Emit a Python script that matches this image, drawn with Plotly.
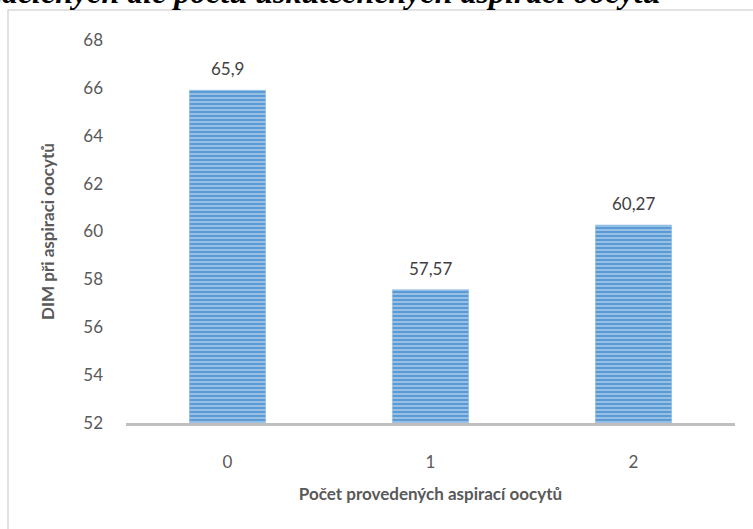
import plotly.graph_objects as go

categories = ["0", "1", "2"]
values = [65.9, 57.57, 60.27]
labels = ["65,9", "57,57", "60,27"]
y_ticks = [52, 54, 56, 58, 60, 62, 64, 66, 68]

title_text = "rozdělených dle počtu uskutečněných aspirací oocytů"
x_title = "Počet provedených aspirací oocytů"
y_title = "DIM při aspiraci oocytů"

L, R, T, B = 126, 18, 40, 106
W, H = 753, 529
pw = W - L - R
ph = H - T - B

fig = go.Figure()
fig.add_trace(go.Bar(
    x=categories, y=values, width=0.375,
    marker=dict(
        color="#5B9BD5",
        line=dict(width=0.5, color="#7FB2E0"),
        pattern=dict(shape="-", bgcolor="#5B9BD5", fgcolor="#E4EEF8", size=4, solidity=0.45, fillmode="overlay"),
    ),
    hoverinfo="skip",
))

annotations = []
for c, v, t in zip(categories, values, labels):
    annotations.append(dict(x=c, y=v, text=t, showarrow=False, yanchor="bottom", yshift=9,
                            font=dict(family="Lato, Open Sans, sans-serif", size=17, color="#404040")))

annotations.append(dict(xref="paper", yref="paper", x=(663 - L) / pw, y=(H - B - 12) / ph,
                        xanchor="right", yanchor="bottom", text="<b><i>" + title_text + "</i></b>",
                        showarrow=False,
                        font=dict(family="Liberation Serif, Times New Roman, serif", size=32, color="#000000")))

shapes = [dict(type="rect", xref="paper", yref="paper",
               x0=(8 - L) / pw, x1=1.2, y0=-0.5, y1=(H - B - 10) / ph,
               line=dict(color="#D9D9D9", width=1.5), fillcolor="rgba(0,0,0,0)", layer="below")]

fig.update_layout(
    width=W, height=H,
    margin=dict(l=L, r=R, t=T, b=B, pad=0),
    plot_bgcolor="white", paper_bgcolor="white",
    showlegend=False,
    bargap=0.625,
    annotations=annotations,
    shapes=shapes,
    font=dict(family="Lato, Open Sans, sans-serif", color="#595959"),
)
fig.update_xaxes(
    type="category", showline=True, linecolor="#BFBFBF", linewidth=3,
    showgrid=False, ticks="", ticklabelstandoff=22,
    tickfont=dict(size=17, color="#595959"),
    title=dict(text="<b>" + x_title + "</b>", font=dict(size=17, color="#595959"), standoff=17),
)
fig.update_yaxes(
    range=[52, 68], tickvals=y_ticks, ticktext=[str(v) for v in y_ticks],
    showgrid=False, showline=False, zeroline=False, ticks="", ticklabelstandoff=22,
    tickfont=dict(size=17, color="#595959"),
    title=dict(text="<b>" + y_title + "</b>", font=dict(size=17, color="#595959"), standoff=24),
)

fig.write_html("out.html", config={"displayModeBar": False},
               post_script="document.body.style.margin='0';document.body.style.overflow='hidden';")
